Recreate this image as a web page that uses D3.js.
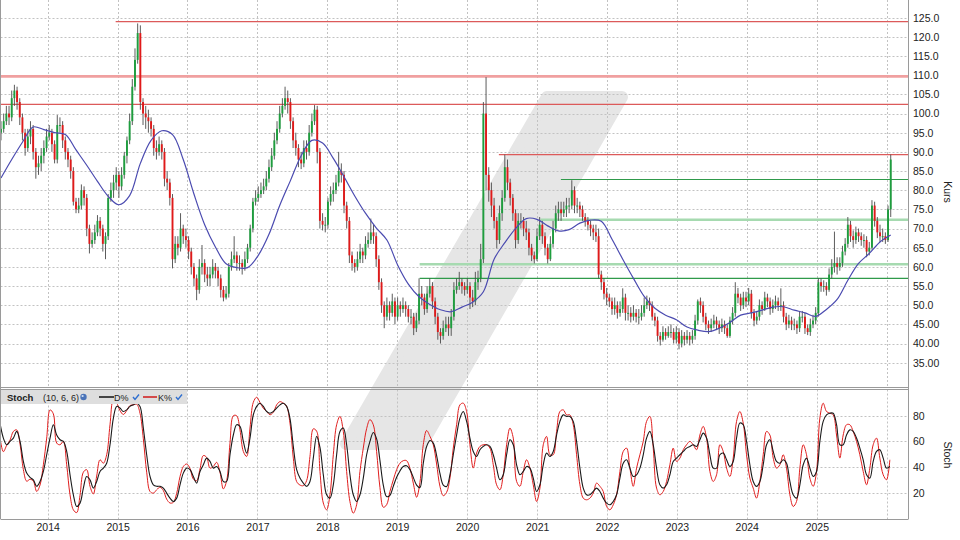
<!DOCTYPE html>
<html><head><meta charset="utf-8">
<script src="https://cdn.jsdelivr.net/npm/d3@7"></script>
<style>
body{margin:0;background:#fff}
svg{display:block}
text{font-family:"Liberation Sans",Arial,sans-serif}
</style>
</head><body>
<svg id="c" width="960" height="540"></svg>
<script>
// ---------------- DATA ----------------
const candleStart = "2013-05-02";
const candleStepDays = 14;
const firstOpen = 95;
const closes = [96,98,100,99,104,106,103,99,95,91,
94,96,90,86,87,89,91,94,95,92,
88,97,97,93,90,88,85,77,75,76,
80,78,70,66,67,69,72,70,66,68,
78,80,82,84,81,84,89,93,98,107,
114,121,103,100,99,98,96,91,90,92,
90,83,82,78,62,66,65,70,68,67,
64,60,57,54,60,61,58,57,58,60,
59,57,54,52,53,60,62,63,61,61,
60,62,65,70,77,78,79,80,81,83,
86,89,93,96,100,102,104,103,98,93,
91,88,87,91,90,95,98,101,90,72,
71,71,77,79,80,82,85,84,76,72,
63,61,60,62,64,63,66,67,69,68,
62,56,50,47,50,48,51,47,50,49,
50,49,47,47,44,46,53,52,49,53,
55,51,47,43,42,44,45,44,47,54,
55,56,55,54,55,52,51,56,57,62,
100,84,80,76,72,67,74,78,86,82,
78,74,67,72,72,70,69,65,63,62,
68,71,68,65,62,66,70,74,75,74,
75,76,76,80,76,76,75,73,72,71,
70,69,68,58,56,53,52,51,49,50,
48,49,52,48,48,47,48,47,47,48,
50,51,50,47,46,42,41,43,42,43,
43,41,43,40,42,41,42,41,42,46,
51,50,47,45,44,45,46,45,44,45,
44,42,46,48,53,52,50,52,51,53,
48,46,47,50,49,52,51,49,50,51,
50,50,47,45,46,45,45,44,47,47,
44,43,45,46,48,56,55,55,54,58,
60,61,60,61,64,66,71,68,67,69,
68,67,67,64,65,76,72,69,68,68,
67,75,88];
const highs = [98,100,102,102,106,107.5,107,104,100,96,
96,98,97,91,89,91,93,96,97,96,
93,99.6,99,98,94,91,89,86,78,78,
81.5,81,79,71,69,71,73.5,73,71,69,
79,82,84,86,85,86,90,94,100,109,
117,123.5,123,104,102,101,99,97,93,94,
93,91,85,83,79,68,68,74,71,70,
68,65,61,58,62,65.7,62,60,60,62,
61,60,58,55,55,61,64,68,64,63,
62,64,66,71,78,80,81,82,83,85,
88,91,95,98,102,104,107,106,104,99,
95,92,90,93,93,97,100,102.2,102,91,
74,73,78,81,82,84,90,87,85,77,
73,64,62,64,66,65,68,69,72.6,71,
69,63,57,51,52,51,53,52,52,51,
52,51,50,49,48,48,57,55,53,55,
57,56,52,48,44,46,47,47,49,56,
57,58.7,57,56,57,56,54,58.7,59,66,
103,109.5,86,82,78,73,76,80,89.3,88,
83,79,75,74,74,73,72,70,66,64,
70,73,72,69,66,68,72,76,77,77,
77,78,78,82.6,81,78,77,76,74,73,
72,71,71,70,59,57,54.5,53,52,52,
51,51,54.4,53,50,49.5,50,49,49,50,
52,52.5,52,51,48,47,43,44.5,44,44.5,
45,44,44.5,44,43.5,43,43.5,43,43.5,47.5,
51.5,52,51,48,46,46.5,47.5,47,46,46.5,
46,45,47,49.5,56,54.5,53,53.5,53.5,54.5,
54,49,48.5,51.5,51,53.5,53,52,51.5,52.5,
52,54.4,51,48,47.5,47,46.5,46,48.5,48.5,
48,45,46.5,47.5,49.5,57,57,56.5,56,59.6,
62,69.2,62.5,62.5,65.5,67.5,73,72,69.5,70.5,
70,69,68.5,68,66.5,77.4,77,73,71,70,
69,76,89.3];
const lows = [93,95,97,97,98,102,101,97,93,89,
90,92,88,83,84,85,87,90,93,90,
87,87,95,91,88,86,83,76,74,74,
75,76,68,63.5,65,66,68,68,64,62,
67,77,78,80,78,80,83,87,92,97,
106,113,101,97,96,95,94,89,88,89,
88,81,80,76,59.6,61,63,64,66,65,
62,58,55,51.3,53,58,56,55,55,57,
57,55,52,51,51.5,52,59,61,59,59,
58,59,61,64,69,76,77,78,79,80,
82,85,88,92,95,99,101,100,96,91,
89,86,85.5,86,88,89,94,97,87,70,
69.5,69,70,76,77,79,81,82,74,70,
61,59,58.5,59,61,61,62,65,66,66,
60,54,48,44,46,46,47,45,46,47,
48,47,45.5,45,42.2,43,45,50,47.5,48,
52,49,45,41,40,41,43,42,42,46,
53,54,53,52.5,53,49,49.5,50,54,56,
61,80,77,73,70,64.8,66,72,77,80,
76,72,64.8,66,70,68,67,63,61.5,60.9,
61.5,67,66,63,60.9,61.5,65,69,72,72,
73,73,74,75,74,74,73,72,70.5,69.5,
68,67,66.5,57,54,51.5,50,49.5,47.5,47.5,
46.5,47,48,46,46,45.5,46,45.5,45,46,
47,49,48.5,46,44.5,40.5,39.5,40.5,41,41.5,
41.5,40,40,38.5,39,39.5,40,39.5,40,41,
45,48,45.5,43.5,42.5,43,44,43.5,42.5,43,
42.5,41.5,41.5,45,47,50.5,48.5,49,49.5,50,
46.5,44.5,45,46,47.5,48.5,49.5,47.5,48,49,
48.5,48.5,45.5,43.5,44,43.5,43.5,42.5,43,45.5,
42.5,42.2,42,44,45,47,53.5,53.5,52.5,53.5,
57,58.5,58,59,60,63,65,66.5,65,66,
66.5,65.5,65,62.5,63,64.5,70.5,67.5,66.5,66.5,
66,66.5,73];

// moving average, one value every 4 candles
const maEveryCandles = 4;
const maValues = [83.2,88,92.5,96.5,95.8,95,94.5,90.5,86.5,82.3,
78.4,76.2,78.6,87,93,95.5,94.5,88,79,71,
65.2,60.8,59.8,59.8,63,68.5,76,82.5,89,93,
92.3,88.3,83.5,78.5,74,70.2,67,60.5,55.5,52.2,
50.2,48.8,48.3,49.5,50.8,53.5,62,66.3,70,72.6,
72.4,70.7,69.4,69.7,71.4,72.2,71.9,67.2,62,57,
52.3,49.2,47.4,46.2,44.3,43.5,43.1,44,45.5,47.4,
48,48.7,49.5,49.6,48.7,48,47.1,48.9,51.5,56.5,
60.9,63.5,66.5,68.3];

// stochastic (10,6,6)
const stochStart = "2013-04-27";
const stochStepDays = 17.41;
const stochK = [62.6,52,57,61,67.8,69,58,38,29,30.5,
29,21,26,41.8,62.6,84.6,81.5,58.7,57.4,60,
41.8,18.4,6.7,4.5,18,36,38,25,19,33,
45.7,43,49.6,73,92.5,90,84,81,84,88,
88.5,89,82,62,36,21,19.7,22.3,24.3,21.7,
15,12,12.5,19.5,32.5,40.4,42.4,39,30.6,29.4,
38.5,49,47.6,39.2,40.5,43.7,36,23,29.4,58.6,
80,80,69,52.2,48.3,70.4,90.5,94.4,90.4,85.8,
83.3,80.8,82.7,88.5,91,89.8,87.3,74.3,47,28.7,
26,25.5,29.5,48.3,69.8,68,36.6,12,6.7,18.4,
49.6,73,79.5,67.8,36.6,13,4.1,10.6,36.6,54.8,
70,77,73,52,24,8.7,10.6,21,30,38,
43,45,45,39,27.5,16.5,28,57.5,68.5,64,
57.4,42.4,25,17.7,20.3,31.4,54.8,73,88.5,89.8,
83.3,57.4,39.2,50.9,56.1,57.4,57.4,54.8,41.8,26.2,
22.3,34,57.4,70.4,62.6,28.8,25,36.6,45.7,39.2,
26.2,13.2,23.6,57.4,63.9,49.6,49.6,67.8,83.3,84.6,
80.7,80.7,73,49.6,26.2,15.8,14.5,15.8,19.7,27.5,
25,21,9.3,6.7,10.6,18.4,36.6,52.2,54.8,39.2,
25,39.2,49.6,60,75.6,79.5,54.8,23.6,18.4,21,
28.8,41.8,54.8,44.4,47,53.5,57.4,60,57.4,53.5,
65,71.7,62.6,36.6,28.8,34,57.4,52.2,39.2,32.7,
47,75.6,83.3,74.3,49.6,31.4,23.6,15.8,28.8,49.6,
67.8,65,47,39.2,41.8,49.6,39.2,18.4,9.3,13.2,
39.2,57.4,49.6,31.4,25,36.6,78.2,89.8,83.3,82,
80.7,65,47,65,73,73,67.8,60,49.6,36.6,
26.2,39.2,57.4,62.6,47,34,30.1,45.7];
const stochD = [74,62.6,57.4,60,62.6,67.8,60,44.4,35.3,32,
30,25,28.8,36.6,49.6,62.6,73,65,61.3,60,
52.2,34,18.4,9.3,11.9,23.6,32.7,30,23.6,28.8,
36.6,39.2,43,57.4,78,87.3,86,83.3,84.6,87.3,
88.5,89.8,87.3,70.4,49.6,32.7,26.2,25,25,23.6,
19.7,15.8,13.2,15.8,26.2,35.3,39.2,38,32.7,27.5,
36.6,41.8,47,44.4,39.2,40.5,36.6,28.8,28.8,49.6,
65,73,71.7,60,50.9,62.6,80.8,87.3,89.8,87.3,
83.3,82,83.3,86,88.5,89.8,87.3,78,56.1,38,
31.4,27.5,25,28.8,47,63.9,55.3,34,18.4,15.8,
26.2,49.6,67.8,70.4,57.4,34,18.4,13.2,18.4,31.4,
49.6,60,67,62,45,26,17,18,25,32,
37,40.5,41,38,32,26,24,43,56,60.7,
58.7,49,35,26,24.9,34,49.6,65,78.2,83.3,
75.6,62.6,52.2,48.3,53.5,56.1,57.4,56.1,49.6,39.2,
30.1,34,49.6,61.3,57.4,41.8,34,36.6,40.5,39.2,
31.4,21,26.2,41.8,50.9,48.3,52.2,65,75.6,80.7,
79.5,79.5,75.6,60,39.2,23.6,18.4,18.4,21,23.6,
21,15.8,11.9,10.6,13.2,18.4,31.4,43,45.7,39.2,
32.7,34,39.2,49.6,62.6,67.8,57.4,39.2,26.2,23.6,
26.2,34,44.4,47,49.6,52.2,54.8,56.1,57.4,56.1,
61.3,66.5,62.6,49.6,39.2,39.2,49.6,50.9,45.7,40.5,
44.4,62.6,74.3,73,60,41.8,28.8,25,28.8,41.8,
57.4,61.3,52.2,44.4,43,45.7,43,28.8,18.4,15.8,
26.2,41.8,47,39.2,32.7,36.6,60,75.6,80.7,82,
82,73,57.4,57.4,65,69,67.8,62.6,54.8,45.7,
34,31.4,44.4,52.2,53.5,47,39.2,40.5];

// support / resistance levels
const levelValues = [124, 109.7, 102.4, 89.3, 82.8, 72.3, 60.7, 57.0];
const levelStarts = ["2014-12-22", null, null, "2020-06-15", "2021-05-05", "2021-01-18", "2019-04-28", "2019-04-28"];
const levelKinds = ["red", "redWide", "red", "red", "green", "greenWide", "greenWide", "green"];

// ticks
const priceTicks = [35,40,45,50,55,60,65,70,75,80,85,90,95,100,105,110,115,120,125];
const priceTickLabels = ["35.00","40.00","45.00","50.0","55.0","60.0","65.0","70.0","75.0","80.0","85.0","90.0","95.0","100.0","105.0","110.0","115.0","120.0","125.0"];
const stochTicks = [20,40,60,80];
const yearGrid = [2014,2015,2016,2017,2018,2019,2020,2021,2022,2023,2024,2025,2026];
const yearLabels = [2014,2015,2016,2017,2018,2019,2020,2021,2022,2023,2024,2025];

// ---------------- CHART ----------------
const W = 960, H = 540;
const plotL = 0.5, plotR = 908;
const mainTop = 0, mainBot = 387.5;
const stTop = 389.5, stBot = 519;
const DAY = 864e5;
const parse = d3.utcParse("%Y-%m-%d");

const x = d3.scaleUtc()
  .domain([Date.UTC(2014,0,1), Date.UTC(2026,0,1)])
  .range([47.7, 886.7]);
const y = d3.scaleLinear().domain([35,125]).range([362.7, 17.7]);
const ys = d3.scaleLinear().domain([0,100]).range([518.4, 390.1]);

const svg = d3.select("#c");
const defs = svg.append("defs");
defs.append("clipPath").attr("id","clipMain").append("rect")
  .attr("x",plotL).attr("y",mainTop).attr("width",plotR-plotL).attr("height",mainBot-mainTop);
defs.append("clipPath").attr("id","clipSt").append("rect")
  .attr("x",plotL).attr("y",stTop).attr("width",plotR-plotL).attr("height",stBot-stTop);

svg.append("rect").attr("width",W).attr("height",H).attr("fill","#fff");

// watermark
svg.append("path")
  .attr("d","M547,97 L622,97 L422,444 L346,444 Z")
  .attr("fill","#e6e6e6").attr("stroke","#e6e6e6")
  .attr("stroke-width",12).attr("stroke-linejoin","round");

// grids
const gMain = svg.append("g").attr("clip-path","url(#clipMain)");
const gSt = svg.append("g").attr("clip-path","url(#clipSt)");
const dash = "2,2", gridCol = "#c2c2c2";

gMain.selectAll("line.hg").data(priceTicks).join("line")
  .attr("x1",plotL).attr("x2",plotR)
  .attr("y1",d=>Math.round(y(d))+0.5).attr("y2",d=>Math.round(y(d))+0.5)
  .attr("stroke",gridCol).attr("stroke-dasharray",dash);
gSt.selectAll("line.hg").data(stochTicks).join("line")
  .attr("x1",plotL).attr("x2",plotR)
  .attr("y1",d=>Math.round(ys(d))+0.5).attr("y2",d=>Math.round(ys(d))+0.5)
  .attr("stroke",gridCol).attr("stroke-dasharray",dash);
[gMain,gSt].forEach((g,k)=>{
  g.selectAll("line.vg").data(yearGrid).join("line")
    .attr("x1",d=>Math.round(x(Date.UTC(d,0,1)))+0.5).attr("x2",d=>Math.round(x(Date.UTC(d,0,1)))+0.5)
    .attr("y1",k?stTop:mainTop).attr("y2",k?stBot:mainBot)
    .attr("stroke",gridCol).attr("stroke-dasharray",dash);
});

// level lines
const levelStyle = {
  red:{c:"#dc5a5a",w:1.2},
  redWide:{c:"#f0a0a0",w:2.6},
  green:{c:"#2f9a4a",w:1.1},
  greenWide:{c:"#a6dab0",w:2.6}
};
levelValues.forEach((v,i)=>{
  const s = levelStyle[levelKinds[i]];
  const x1 = levelStarts[i] ? x(parse(levelStarts[i])) : plotL;
  gMain.append("line").attr("x1",x1).attr("x2",plotR)
    .attr("y1",y(v)).attr("y2",y(v))
    .attr("stroke",s.c).attr("stroke-width",s.w);
});

// candles
const t0 = parse(candleStart).getTime();
const candles = closes.map((c,i)=>({
  date:new Date(t0 + i*candleStepDays*DAY),
  open: i===0 ? firstOpen : closes[i-1],
  close:c, high:highs[i], low:lows[i]
}));
const gC = gMain.append("g");
gC.selectAll("line.wick").data(candles).join("line")
  .attr("x1",d=>x(d.date)).attr("x2",d=>x(d.date))
  .attr("y1",d=>y(d.high)).attr("y2",d=>y(d.low))
  .attr("stroke","#4a4a4a").attr("stroke-width",0.9);
gC.selectAll("rect.body").data(candles).join("rect")
  .attr("x",d=>x(d.date)-0.95).attr("width",1.9)
  .attr("y",d=>y(Math.max(d.open,d.close)))
  .attr("height",d=>Math.max(1,Math.abs(y(d.open)-y(d.close))))
  .attr("fill",d=>d.close>=d.open ? "#1e9e3e" : "#e01a1a");

// moving average
const maData = maValues.map((v,k)=>({date:new Date(t0 + k*maEveryCandles*candleStepDays*DAY), v}));
gMain.append("path").datum(maData)
  .attr("d",d3.line().x(d=>x(d.date)).y(d=>y(d.v)).curve(d3.curveCatmullRom))
  .attr("fill","none").attr("stroke","#4b4bb0").attr("stroke-width",1.2);

// stochastic
const s0 = parse(stochStart).getTime();
const stLine = d3.line().x((d,j)=>x(new Date(s0 + j*stochStepDays*DAY))).y(d=>ys(d)).curve(d3.curveCatmullRom);
gSt.append("path").datum(stochK).attr("d",stLine)
  .attr("fill","none").attr("stroke","#e01e1e").attr("stroke-width",1);
gSt.append("path").datum(stochD).attr("d",stLine)
  .attr("fill","none").attr("stroke","#1a1a1a").attr("stroke-width",1.1);

// borders
const border = "#9a9a9a";
svg.append("line").attr("x1",plotL).attr("x2",plotL).attr("y1",0).attr("y2",stBot).attr("stroke",border);
svg.append("line").attr("x1",plotR+0.5).attr("x2",plotR+0.5).attr("y1",0).attr("y2",stBot).attr("stroke",border);
svg.append("line").attr("x1",plotL).attr("x2",plotR+0.5).attr("y1",mainBot).attr("y2",mainBot).attr("stroke",border);
svg.append("line").attr("x1",plotL).attr("x2",plotR+0.5).attr("y1",stTop).attr("y2",stTop).attr("stroke",border);
svg.append("line").attr("x1",plotL).attr("x2",plotR+0.5).attr("y1",stBot+0.5).attr("y2",stBot+0.5).attr("stroke",border);

// axes
const fs = "10.5px", tc = "#222";
const ay = svg.append("g").attr("transform",`translate(${plotR},0)`)
  .call(d3.axisRight(y).tickValues(priceTicks).tickFormat((d,i)=>priceTickLabels[i]).tickSize(0).tickPadding(5));
const ays = svg.append("g").attr("transform",`translate(${plotR},0)`)
  .call(d3.axisRight(ys).tickValues(stochTicks).tickFormat(d3.format("d")).tickSize(0).tickPadding(5));
const ax = svg.append("g").attr("transform",`translate(0,${stBot})`)
  .call(d3.axisBottom(x).tickValues(yearLabels.map(yv=>new Date(Date.UTC(yv,0,1)))).tickFormat(d3.utcFormat("%Y")).tickSize(0).tickPadding(5));
[ay,ays,ax].forEach(g=>{
  g.select(".domain").remove();
  g.selectAll("text").attr("font-size",fs).attr("fill",tc).attr("font-family","Liberation Sans, Arial, sans-serif");
});

svg.append("text").attr("transform","translate(944,192) rotate(90)")
  .attr("text-anchor","middle").attr("font-size",fs).attr("fill",tc).text("Kurs");
svg.append("text").attr("transform","translate(944,455) rotate(90)")
  .attr("text-anchor","middle").attr("font-size",fs).attr("fill",tc).text("Stoch");

// stoch legend
const lfs = "9px";
const lg = svg.append("g");
lg.append("rect").attr("x",1).attr("y",390).attr("width",186).attr("height",14).attr("fill","#dedede");
lg.append("text").attr("x",7).attr("y",400.5).attr("font-size","9.5px").attr("font-weight","bold").attr("fill",tc).text("Stoch");
lg.append("text").attr("x",43).attr("y",400.5).attr("font-size",lfs).attr("fill",tc).text("(10, 6, 6)");
lg.append("circle").attr("cx",83.5).attr("cy",397).attr("r",3.2).attr("fill","#4a73b8");
lg.append("circle").attr("cx",82.6).attr("cy",396).attr("r",1.1).attr("fill","#cfe0f5");
lg.append("line").attr("x1",99).attr("x2",114).attr("y1",397).attr("y2",397).attr("stroke","#111").attr("stroke-width",1.5);
lg.append("text").attr("x",114).attr("y",400.5).attr("font-size",lfs).attr("fill",tc).text("D%");
lg.append("line").attr("x1",143).attr("x2",157).attr("y1",397).attr("y2",397).attr("stroke","#d01818").attr("stroke-width",1.5);
lg.append("text").attr("x",158).attr("y",400.5).attr("font-size",lfs).attr("fill",tc).text("K%");
[133,176].forEach(cx=>{
  lg.append("path").attr("d",`M${cx},397 l2,2.5 l4,-5`).attr("fill","none")
    .attr("stroke","#2f6fd0").attr("stroke-width",1.4);
});
</script>
</body></html>
